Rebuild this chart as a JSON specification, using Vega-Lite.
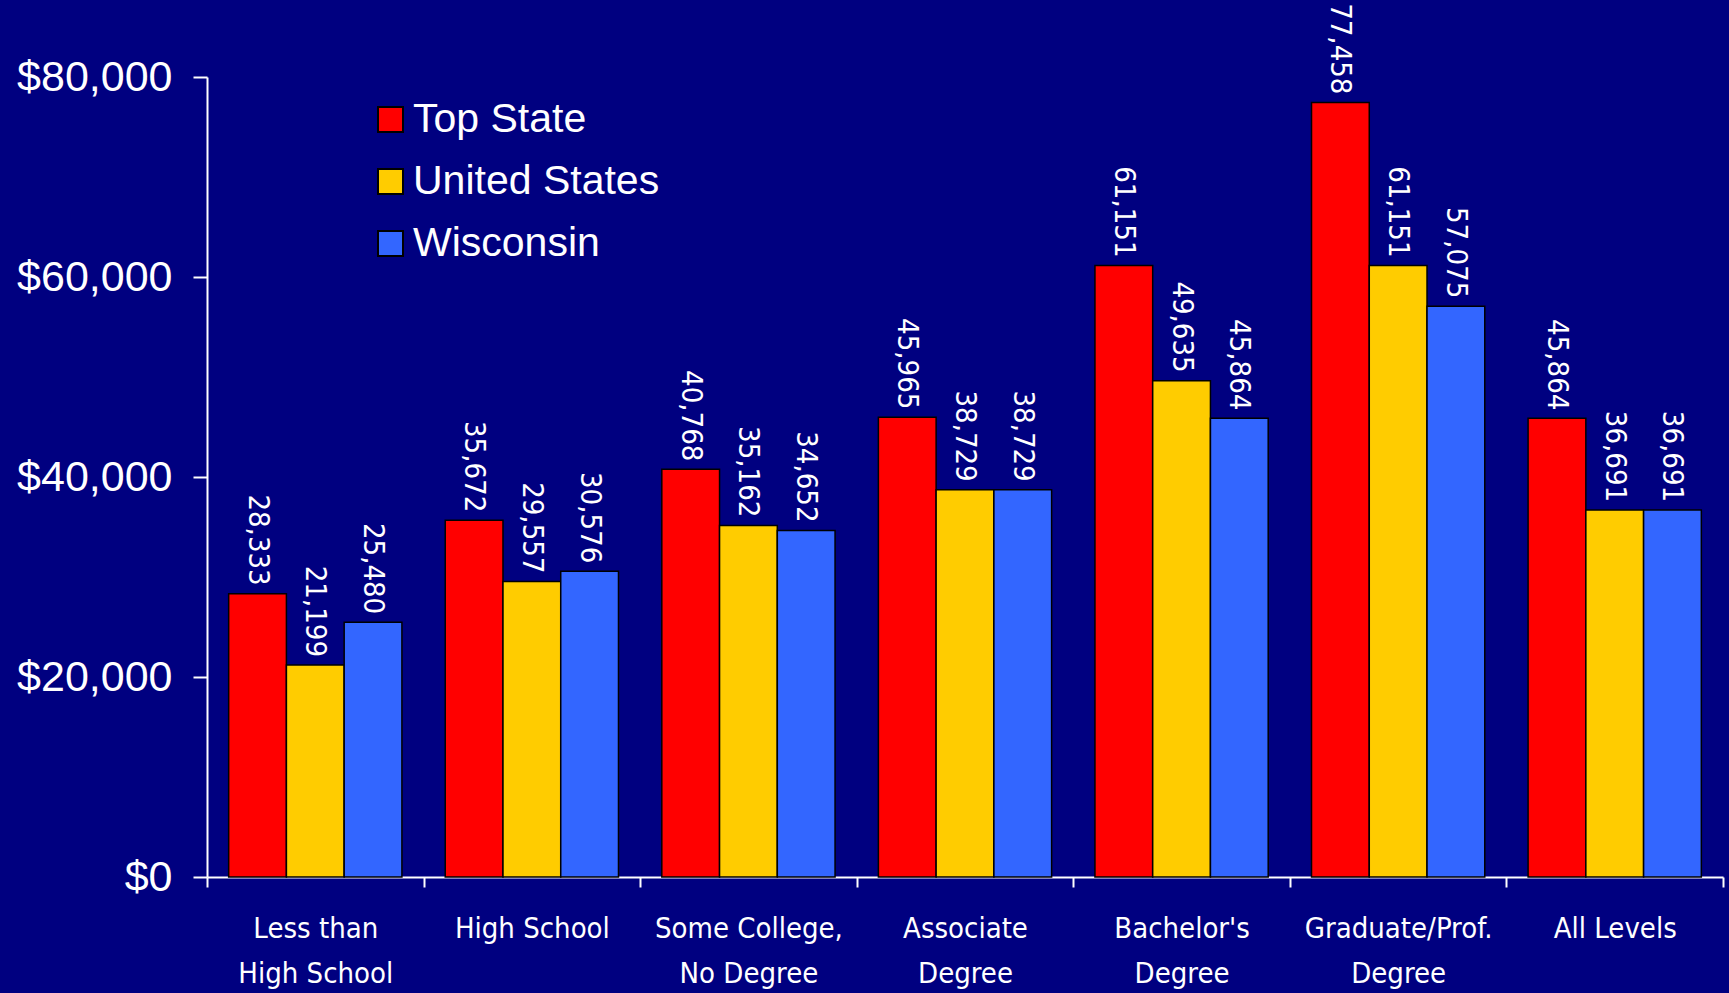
{
  "$schema": "https://vega.github.io/schema/vega-lite/v6.json",
  "width": 1516,
  "height": 800,
  "autosize": {"type": "none"},
  "padding": {"left": 207, "top": 77, "right": 6, "bottom": 116},
  "background": "#000080",
  "config": {
    "view": {"stroke": null},
    "axis": {"grid": false}
  },
  "data": {
    "values": [
      {"level": "Less than\nHigh School", "series": "Top State", "income": 28333},
      {"level": "Less than\nHigh School", "series": "United States", "income": 21199},
      {"level": "Less than\nHigh School", "series": "Wisconsin", "income": 25480},
      {"level": "High School", "series": "Top State", "income": 35672},
      {"level": "High School", "series": "United States", "income": 29557},
      {"level": "High School", "series": "Wisconsin", "income": 30576},
      {"level": "Some College,\nNo Degree", "series": "Top State", "income": 40768},
      {"level": "Some College,\nNo Degree", "series": "United States", "income": 35162},
      {"level": "Some College,\nNo Degree", "series": "Wisconsin", "income": 34652},
      {"level": "Associate\nDegree", "series": "Top State", "income": 45965},
      {"level": "Associate\nDegree", "series": "United States", "income": 38729},
      {"level": "Associate\nDegree", "series": "Wisconsin", "income": 38729},
      {"level": "Bachelor's\nDegree", "series": "Top State", "income": 61151},
      {"level": "Bachelor's\nDegree", "series": "United States", "income": 49635},
      {"level": "Bachelor's\nDegree", "series": "Wisconsin", "income": 45864},
      {"level": "Graduate/Prof.\nDegree", "series": "Top State", "income": 77458},
      {"level": "Graduate/Prof.\nDegree", "series": "United States", "income": 61151},
      {"level": "Graduate/Prof.\nDegree", "series": "Wisconsin", "income": 57075},
      {"level": "All Levels", "series": "Top State", "income": 45864},
      {"level": "All Levels", "series": "United States", "income": 36691},
      {"level": "All Levels", "series": "Wisconsin", "income": 36691}
    ]
  },
  "encoding": {
    "x": {
      "field": "level",
      "type": "nominal",
      "sort": null,
      "scale": {"paddingInner": 0, "paddingOuter": 0},
      "axis": {
        "title": null,
        "tickBand": "extent",
        "domainColor": "white",
        "domainWidth": 2,
        "tickColor": "white",
        "tickWidth": 2,
        "tickSize": 10,
        "labelAngle": 0,
        "labelColor": "white",
        "labelFont": "DejaVu Sans Condensed, sans-serif",
        "labelFontSize": 29,
        "labelLineHeight": 45,
        "labelPadding": 27,
        "labelLimit": 400,
        "labelExpr": "split(datum.label, '\\n')"
      }
    },
    "xOffset": {
      "field": "series",
      "type": "nominal",
      "sort": ["Top State", "United States", "Wisconsin"],
      "scale": {"paddingInner": 0, "paddingOuter": 0.375}
    },
    "y": {
      "field": "income",
      "type": "quantitative",
      "scale": {"domain": [0, 80000]},
      "axis": {
        "title": null,
        "values": [0, 20000, 40000, 60000, 80000],
        "format": "$,.0f",
        "domainColor": "white",
        "domainWidth": 2,
        "tickColor": "white",
        "tickWidth": 2,
        "tickSize": 14,
        "labelColor": "white",
        "labelFont": "Liberation Sans, Arial, sans-serif",
        "labelFontSize": 43,
        "labelPadding": 21,
        "labelFlush": false,
        "labelOverlap": false
      }
    }
  },
  "layer": [
    {
      "mark": {"type": "bar", "stroke": "black", "strokeWidth": 1.5},
      "encoding": {
        "color": {
          "field": "series",
          "type": "nominal",
          "scale": {
            "domain": ["Top State", "United States", "Wisconsin"],
            "range": ["#FF0000", "#FFCC00", "#3366FF"]
          },
          "legend": {
            "title": null,
            "orient": "none",
            "legendX": 163,
            "legendY": 22,
            "symbolType": "square",
            "symbolSize": 625,
            "symbolStrokeColor": "black",
            "symbolStrokeWidth": 2,
            "symbolOpacity": 1,
            "labelColor": "white",
            "labelFont": "Liberation Sans, Arial, sans-serif",
            "labelFontSize": 41,
            "labelOffset": 2,
            "labelLimit": 500,
            "rowPadding": 20
          }
        }
      }
    },
    {
      "mark": {
        "type": "text",
        "angle": 90,
        "align": "right",
        "baseline": "middle",
        "dx": -8,
        "font": "DejaVu Sans Condensed, sans-serif",
        "fontSize": 29,
        "color": "white"
      },
      "encoding": {
        "text": {"field": "income", "type": "quantitative", "format": ",d"}
      }
    }
  ]
}
